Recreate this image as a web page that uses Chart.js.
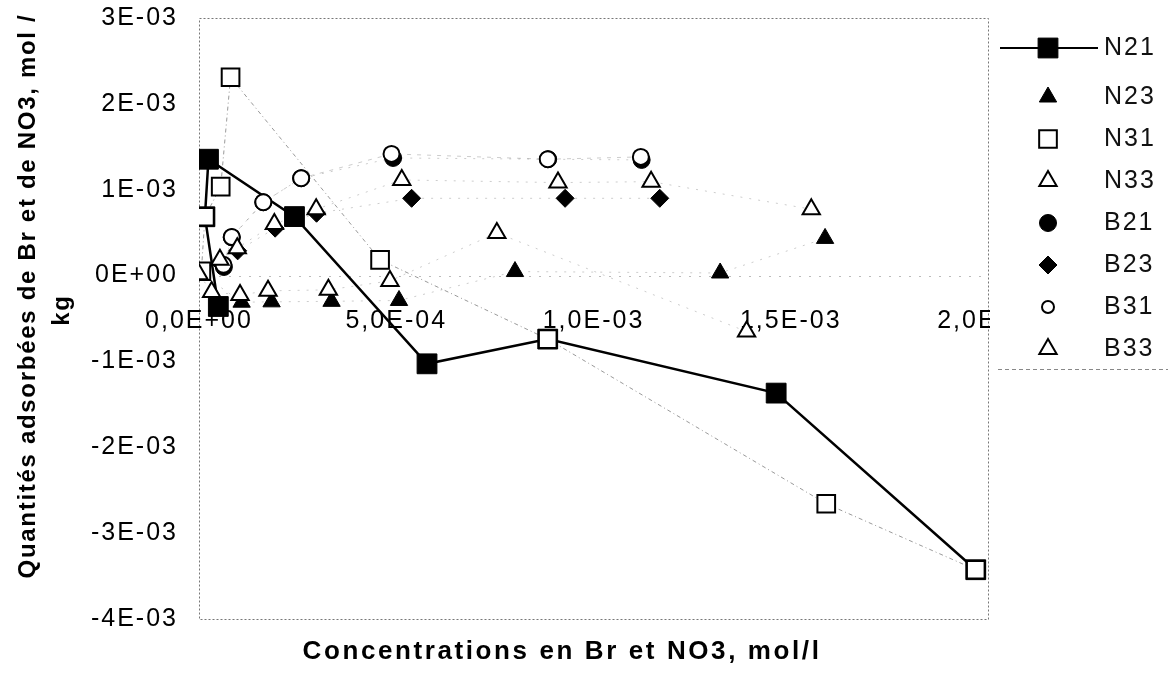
<!DOCTYPE html>
<html>
<head>
<meta charset="utf-8">
<script src="https://cdn.jsdelivr.net/npm/chart.js@4.4.0/dist/chart.umd.min.js"></script>
<style>
  html, body { margin: 0; padding: 0; background: #fff; }
  #wrap { width: 1168px; height: 685px; }
</style>
</head>
<body>
<div id="wrap"><canvas id="adsChart" width="1168" height="685"></canvas></div>
<script>
// Axis ticks
const xTicks = [0, 5e-4, 1e-3, 1.5e-3, 2e-3];
const xTickLabels = ['0,0E+00', '5,0E-04', '1,0E-03', '1,5E-03', '2,0E-03'];
const yTicks = [3e-3, 2e-3, 1e-3, 0, -1e-3, -2e-3, -3e-3, -4e-3];
const yTickLabels = ['3E-03', '2E-03', '1E-03', '0E+00', '-1E-03', '-2E-03', '-3E-03', '-4E-03'];

// Series: x = concentration (mol/l), y = adsorbed quantity (mol/kg)
const seriesNames = ['N21', 'N23', 'N31', 'N33', 'B21', 'B23', 'B31', 'B33'];

const n21X = [4.9e-5, 1.5e-5, 2.4e-5, 2.42e-4, 5.78e-4, 8.84e-4, 1.463e-3, 1.969e-3];
const n21Y = [-3.6e-4, 6.85e-4, 1.355e-3, 6.87e-4, -1.028e-3, -7.4e-4, -1.369e-3, -3.426e-3];

const n23X = [1e-6, 1.08e-4, 1.84e-4, 3.36e-4, 5.07e-4, 8.01e-4, 1.321e-3, 1.587e-3];
const n23Y = [4e-5, -3.1e-4, -3.06e-4, -3.0e-4, -2.9e-4, 4.7e-5, 3.0e-5, 4.33e-4];

const n31X = [6e-6, 1.5e-5, 5.5e-5, 8.0e-5, 4.59e-4, 8.84e-4, 1.59e-3, 1.969e-3];
const n31Y = [5e-5, 6.85e-4, 1.036e-3, 2.31e-3, 1.83e-4, -7.4e-4, -2.658e-3, -3.426e-3];

const n33X = [0, 3.2e-5, 1.04e-4, 1.75e-4, 3.28e-4, 4.84e-4, 7.55e-4, 1.388e-3];
const n33Y = [1.4e-5, -1.9e-4, -2.25e-4, -1.78e-4, -1.66e-4, -6.2e-5, 4.97e-4, -6.52e-4];

const b21X = [6.3e-5, 8.3e-5, 1.63e-4, 2.59e-4, 4.92e-4, 8.85e-4, 1.122e-3];
const b21Y = [1.0e-4, 4.45e-4, 8.54e-4, 1.134e-3, 1.37e-3, 1.355e-3, 1.347e-3];

const b23X = [5.3e-5, 9.8e-5, 1.93e-4, 2.98e-4, 5.39e-4, 9.28e-4, 1.168e-3];
const b23Y = [1.48e-4, 2.88e-4, 5.52e-4, 7.26e-4, 9.0e-4, 9.0e-4, 9.0e-4];

const b31X = [6.2e-5, 8.3e-5, 1.63e-4, 2.59e-4, 4.88e-4, 8.84e-4, 1.12e-3];
const b31Y = [1.25e-4, 4.5e-4, 8.54e-4, 1.134e-3, 1.417e-3, 1.355e-3, 1.382e-3];

const b33X = [5.3e-5, 9.7e-5, 1.91e-4, 2.97e-4, 5.14e-4, 9.1e-4, 1.146e-3, 1.552e-3];
const b33Y = [1.83e-4, 3.19e-4, 6.02e-4, 7.73e-4, 1.114e-3, 1.083e-3, 1.094e-3, 7.73e-4];

const FONT = '"Liberation Sans", Arial, Helvetica, sans-serif';
const LETTER_SPACING = '2px';

function points(xs, ys) {
    return xs.map((x, i) => ({ x: x, y: ys[i] }));
}

// one dataset per series, later series drawn on top (like the original sheet)
function makeSeries(idx, xs, ys, style) {
    const solid = idx === 0;
    return {
        label: seriesNames[idx],
        data: points(xs, ys),
        showLine: true,
        order: seriesNames.length - idx,
        borderColor: solid ? '#000' : style.lineColor,
        borderWidth: solid ? 2.5 : 1,
        borderDash: solid ? [] : style.dash,
        pointStyle: style.shape,
        pointRadius: style.radius,
        pointHoverRadius: style.radius,
        pointBackgroundColor: style.filled ? '#000' : '#fff',
        pointBorderColor: '#000',
        pointBorderWidth: style.filled ? 1 : 2,
        legendRadius: style.legendRadius || style.radius
    };
}

const faint = 'rgba(0, 0, 0, 0.2)';
const datasets = [
    makeSeries(0, n21X, n21Y, { shape: 'rect', radius: 14, filled: true }),
    makeSeries(1, n23X, n23Y, { shape: 'triangle', radius: 10, filled: true, lineColor: faint, dash: [2, 7] }),
    makeSeries(2, n31X, n31Y, { shape: 'rect', radius: 12.5, filled: false, lineColor: 'rgba(0, 0, 0, 0.4)', dash: [4, 3, 1, 3] }),
    makeSeries(3, n33X, n33Y, { shape: 'triangle', radius: 10, filled: false, lineColor: faint, dash: [2, 7] }),
    makeSeries(4, b21X, b21Y, { shape: 'circle', radius: 8.5, filled: true, lineColor: faint, dash: [2, 7] }),
    makeSeries(5, b23X, b23Y, { shape: 'rectRot', radius: 9, filled: true, lineColor: faint, dash: [2, 7] }),
    makeSeries(6, b31X, b31Y, { shape: 'circle', radius: 8, filled: false, legendRadius: 6, lineColor: faint, dash: [4, 6] }),
    makeSeries(7, b33X, b33Y, { shape: 'triangle', radius: 10, filled: false, lineColor: faint, dash: [2, 7] })
];

// Frame, zero line and clipped x labels (drawn under the markers)
const framePlugin = {
    id: 'frame',
    beforeLayout(chart) {
        chart.ctx.letterSpacing = LETTER_SPACING;
    },
    beforeDraw(chart) {
        const ctx = chart.ctx;
        ctx.letterSpacing = LETTER_SPACING;
        ctx.save();
        ctx.fillStyle = '#fff';
        ctx.fillRect(0, 0, chart.width, chart.height);
        ctx.restore();
    },
    beforeDatasetsDraw(chart) {
        const ctx = chart.ctx;
        const a = chart.chartArea;
        const xScale = chart.scales.x;
        const yScale = chart.scales.y;
        ctx.save();
        ctx.strokeStyle = '#777';
        ctx.lineWidth = 1;
        ctx.setLineDash([2, 2]);
        ctx.strokeRect(a.left + 0.5, a.top + 0.5, a.width, a.height);

        const y0 = Math.round(yScale.getPixelForValue(0)) + 0.5;
        ctx.strokeStyle = '#bbb';
        ctx.setLineDash([2, 8]);
        ctx.beginPath();
        ctx.moveTo(a.left, y0);
        ctx.lineTo(a.right, y0);
        ctx.stroke();

        // the last label is cut by the plot border in the original
        ctx.beginPath();
        ctx.rect(0, 0, a.right + 2, chart.height);
        ctx.clip();
        ctx.fillStyle = '#000';
        ctx.font = '25px ' + FONT;
        ctx.textAlign = 'center';
        ctx.textBaseline = 'middle';
        xTicks.forEach((v, i) => {
            ctx.fillText(xTickLabels[i], xScale.getPixelForValue(v), y0 + 45);
        });
        ctx.restore();
    },
    afterDraw(chart) {
        const ctx = chart.ctx;
        ctx.save();
        ctx.fillStyle = '#000';
        ctx.textAlign = 'center';
        ctx.textBaseline = 'middle';
        ctx.font = 'bold 26px ' + FONT;
        ctx.letterSpacing = '2.6px';
        ctx.fillText('Concentrations en Br et NO3, mol/l', 562, 652);

        ctx.font = 'bold 24px ' + FONT;
        ctx.letterSpacing = '1.7px';
        ctx.translate(28, 296);
        ctx.rotate(-Math.PI / 2);
        ctx.fillText('Quantités adsorbées de Br et de NO3, mol /', 0, 0);
        ctx.fillText('kg', -14, 34);
        ctx.restore();
    }
};

// Legend on the right, drawn from the dataset styles
const legendPlugin = {
    id: 'sideLegend',
    afterDraw(chart) {
        const ctx = chart.ctx;
        ctx.save();
        chart.data.datasets.forEach((ds, i) => {
            const rowY = i === 0 ? 48 : 97 + (i - 1) * 42;
            if (i === 0) {
                ctx.strokeStyle = '#000';
                ctx.lineWidth = 2;
                ctx.beginPath();
                ctx.moveTo(1000, rowY);
                ctx.lineTo(1098, rowY);
                ctx.stroke();
            }
            ctx.fillStyle = ds.pointBackgroundColor;
            ctx.strokeStyle = ds.pointBorderColor;
            ctx.lineWidth = ds.pointBorderWidth;
            Chart.helpers.drawPoint(ctx, {
                pointStyle: ds.pointStyle,
                radius: ds.legendRadius,
                rotation: 0,
                borderWidth: ds.pointBorderWidth
            }, 1048, rowY);
            ctx.fillStyle = '#111';
            ctx.font = '25px ' + FONT;
            ctx.textAlign = 'left';
            ctx.textBaseline = 'middle';
            ctx.fillText(ds.label, 1104, rowY);
        });
        ctx.strokeStyle = '#888';
        ctx.lineWidth = 1;
        ctx.setLineDash([4, 3]);
        ctx.beginPath();
        ctx.moveTo(998, 369.5);
        ctx.lineTo(1168, 369.5);
        ctx.stroke();
        ctx.restore();
    }
};

const chart = new Chart(document.getElementById('adsChart').getContext('2d'), {
    type: 'scatter',
    data: { datasets: datasets },
    options: {
        responsive: false,
        animation: false,
        layout: { padding: { left: 0, top: 18, right: 180, bottom: 66 } },
        plugins: {
            legend: { display: false },
            tooltip: { enabled: false }
        },
        scales: {
            x: {
                type: 'linear',
                min: 0,
                max: 2e-3,
                ticks: { display: false },
                grid: { display: false, drawTicks: false },
                border: { display: false },
                afterFit: (scale) => {
                    scale.height = 0;
                    scale.paddingLeft = 0;
                    scale.paddingRight = 0;
                }
            },
            y: {
                type: 'linear',
                min: -4e-3,
                max: 3e-3,
                afterBuildTicks: (scale) => {
                    scale.ticks = yTicks.map(v => ({ value: v }));
                },
                ticks: {
                    padding: 21,
                    color: '#000',
                    font: { family: FONT, size: 25 },
                    callback: (value, index) => yTickLabels[index]
                },
                grid: { display: false, drawTicks: false },
                border: { display: false },
                afterFit: (scale) => {
                    scale.width = 199;
                    // keep the plot top/bottom where the original has them
                    scale.paddingTop = 0;
                    scale.paddingBottom = 0;
                }
            }
        }
    },
    plugins: [framePlugin, legendPlugin]
});
</script>
</body>
</html>
